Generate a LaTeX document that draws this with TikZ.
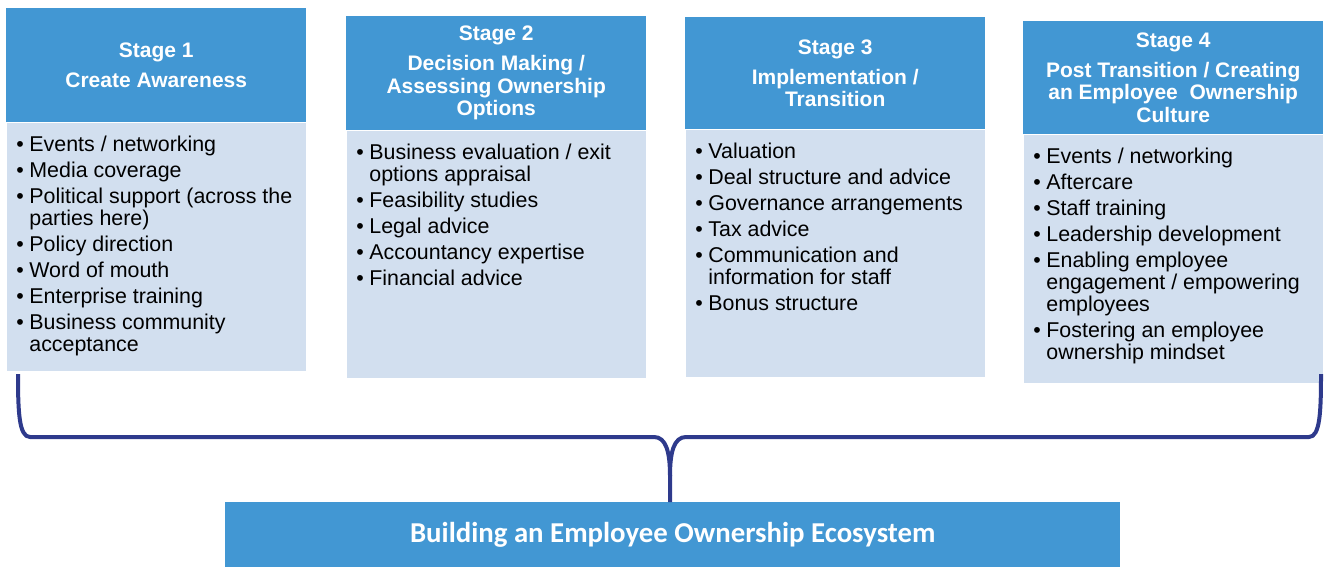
\documentclass[tikz,border=0pt]{standalone}
\usepackage{fontspec}
\setmainfont{Liberation Sans}
\newfontfamily\calfont{Carlito}
\usepackage{xcolor}
\usepackage{tikz}
\usetikzlibrary{positioning}

\definecolor{stageblue}{RGB}{66,151,211}
\definecolor{listblue}{RGB}{210,223,239}
\definecolor{bracenavy}{RGB}{46,58,140}

\newcommand{\bitem}[1]{\par\hangindent=23pt\hangafter=1\noindent\makebox[23pt][l]{\hspace{10pt}\textbullet}#1}
\newcommand{\stagelist}[2]{%
  \begin{minipage}[t][#1][t]{300pt}
    \fontsize{21.4}{22}\selectfont\raggedright
    \setlength{\parskip}{4pt}%
    \vspace*{13pt}%
    #2
  \end{minipage}}

\begin{document}
\begin{tikzpicture}[x=1pt, y=-1pt,
  head/.style={fill=stageblue, text=white, inner sep=0pt, align=center,
    minimum width=300pt, font=\bfseries\fontsize{21}{22.5}\selectfont},
  body/.style={fill=listblue, draw=white, line width=0.8pt, inner sep=0pt, text=black},
  brace/.style={bracenavy, line width=4pt, line join=round}]
  \useasboundingbox (0,0) rectangle (1325,567);

  \node[head, anchor=north west, minimum height=114pt] (h1) at (6,8) {Stage 1\\[7.5pt]Create Awareness};
  \node[head, anchor=north west, minimum height=114pt] (h2) at (346,16) {Stage 2\\[7.5pt]Decision Making /\\Assessing Ownership\\Options};
  \node[head, anchor=north west, minimum height=112pt] (h3) at (685,17) {Stage 3\\[7.5pt]Implementation /\\Transition};
  \node[head, anchor=north west, minimum height=113pt] (h4) at (1023,21) {Stage 4\\[7.5pt]Post Transition / Creating\\an Employee\ \ Ownership\\Culture};

  \node[body, anchor=north west] (b1) at (h1.south west) {\stagelist{249pt}{%
    \bitem{Events / networking}
    \bitem{Media coverage}
    \bitem{Political support (across the\newline parties here)}
    \bitem{Policy direction}
    \bitem{Word of mouth}
    \bitem{Enterprise training}
    \bitem{Business community\newline acceptance}}};
  \node[body, anchor=north west] (b2) at (h2.south west) {\stagelist{248pt}{%
    \bitem{Business evaluation / exit\newline options appraisal}
    \bitem{Feasibility studies}
    \bitem{Legal advice}
    \bitem{Accountancy expertise}
    \bitem{Financial advice}}};
  \node[body, anchor=north west] (b3) at (h3.south west) {\stagelist{248pt}{%
    \bitem{Valuation}
    \bitem{Deal structure and advice}
    \bitem{Governance arrangements}
    \bitem{Tax advice}
    \bitem{Communication and\newline information for staff}
    \bitem{Bonus structure}}};
  \node[body, anchor=north west] (b4) at (h4.south west) {\stagelist{249pt}{%
    \bitem{Events / networking}
    \bitem{Aftercare}
    \bitem{Staff training}
    \bitem{Leadership development}
    \bitem{Enabling employee\newline engagement / empowering\newline employees}
    \bitem{Fostering an employee\newline ownership mindset}}};

  \node[fill=stageblue, text=white, inner sep=0pt, anchor=north west,
    minimum width=895pt, minimum height=66pt,
    font=\calfont\bfseries\fontsize{28.8}{30}\selectfont] (eco) at (225,502) {Building an Employee Ownership Ecosystem};

  \coordinate (armL) at (18,374);
  \coordinate (armR) at (1321,374);
  \coordinate (tip) at (670,502);
  \draw[brace] (armL) .. controls (18,412) and (19,437) .. (30,437) -- (654,437)
    .. controls (666,437) and (670,452) .. (670,476) -- (tip);
  \draw[brace] (armR) .. controls (1321,412) and (1320,437) .. (1309,437) -- (686,437)
    .. controls (674,437) and (670,452) .. (670,476);
\end{tikzpicture}
\end{document}
